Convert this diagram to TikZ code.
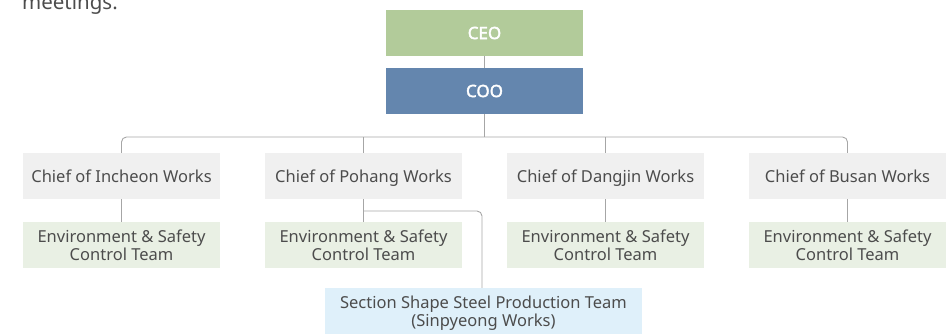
\documentclass[tikz,border=0pt]{standalone}
\usepackage{fontspec}
\setmainfont{Noto Sans}[AutoFakeBold=2.2]
\begin{document}
\begin{tikzpicture}[x=1pt,y=-1pt,
  box/.style={minimum width=197pt,minimum height=46pt,inner sep=0pt,align=center,font=\fontsize{16.5}{18}\selectfont,text=black!70},
  topbox/.style={box,text=white,font=\fontsize{17}{19}\selectfont\bfseries},
  chief/.style={box,fill=gray!12,text height=14.5pt,text depth=1.5pt},
  team/.style={box,fill=envgreen},
  link/.style={draw=linegray,line width=0.9pt,rounded corners=5pt}]
\definecolor{envgreen}{HTML}{E9F0E4}
\definecolor{linegray}{HTML}{A6A6A6}
\definecolor{ceogreen}{HTML}{B2CB9A}
\definecolor{cooblue}{HTML}{6486AE}
\definecolor{sectblue}{HTML}{DFF0FA}
\useasboundingbox (0,0) rectangle (950,333);
\begin{scope}
\clip (0,0) rectangle (950,333);
\node[anchor=base west,inner sep=0pt,text=black!70,font=\fontsize{20.5}{22}\selectfont] (intro) at (22,9) {meetings.};
\node[topbox,fill=ceogreen] (ceo) at (484.5,33) {CEO};
\node[topbox,fill=cooblue] (coo) at (484.5,91) {COO};
\node[chief] (c1) at (121.5,176) {Chief of Incheon Works};
\node[chief] (c2) at (363.5,176) {Chief of Pohang Works};
\node[chief] (c3) at (605.5,176) {Chief of Dangjin Works};
\node[chief] (c4) at (847.5,176) {Chief of Busan Works};
\node[team] (t1) at (121.5,245) {Environment \& Safety\\Control Team};
\node[team] (t2) at (363.5,245) {Environment \& Safety\\Control Team};
\node[team] (t3) at (605.5,245) {Environment \& Safety\\Control Team};
\node[team] (t4) at (847.5,245) {Environment \& Safety\\Control Team};
\node[box,fill=sectblue,minimum width=317pt,minimum height=50pt] (sec) at (483.5,313) {Section Shape Steel Production Team\\(Sinpyeong Works)};
\coordinate (bus) at (484.5,137);
\draw[link] (ceo) -- (coo);
\draw[link] (coo.south) -- (bus);
\draw[link] (c1.north) |- (bus) -| (c4.north);
\draw[link] (c2.north) -- (c2.north |- bus);
\draw[link] (c3.north) -- (c3.north |- bus);
\foreach \i in {1,...,4} \draw[link] (c\i) -- (t\i);
\coordinate (fork) at (363.5,211);
\draw[link] (fork) -| (sec.north -| 482,0);
\end{scope}
\end{tikzpicture}
\end{document}
